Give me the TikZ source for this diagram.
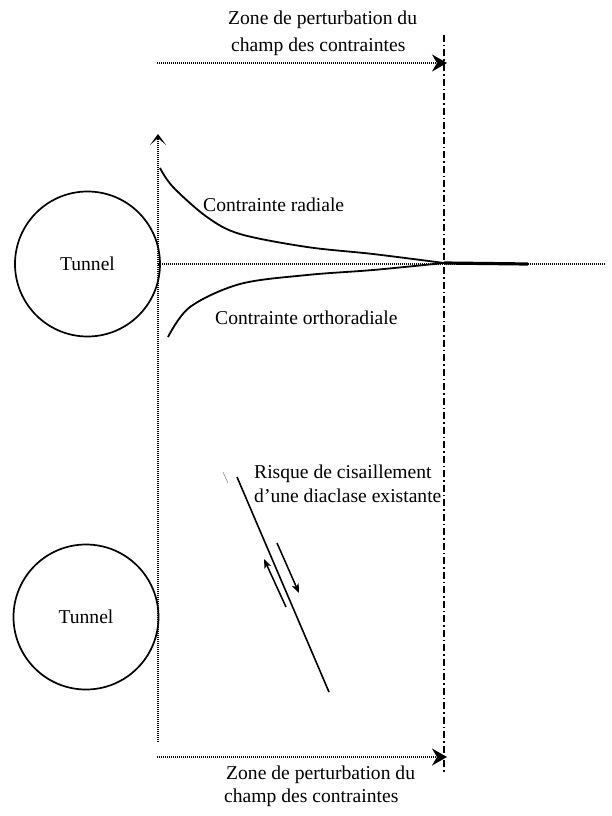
\documentclass[tikz,border=0pt]{standalone}
\usepackage{fontspec}
\setmainfont{Liberation Serif}
\usetikzlibrary{arrows.meta}
\begin{document}
\begin{tikzpicture}[x=1pt,y=-1pt,
  every node/.style={font=\fontsize{19.6}{24}\selectfont, inner sep=0pt},
  lbl/.style={anchor=base west},
  tunnel/.style={circle, draw, line width=1.7pt, minimum size=145pt},
  dotline/.style={line width=1.2pt, dash pattern=on 1pt off 1pt},
  dashdotline/.style={line width=1.7pt, dash pattern=on 7pt off 3pt on 1.5pt off 3pt},
  curve/.style={line width=1.8pt},
  zonearrow/.style={dotline, -{Stealth[length=15pt,width=17pt,inset=5pt]}},
  slip/.style={line width=1.5pt, -{Stealth[length=9pt,width=7pt,inset=2pt]}}
]
\useasboundingbox (0,0) rectangle (612,816);

% tunnels
\node[tunnel] (t1) at (87.5,264) {Tunnel};
\node[tunnel] (t2) at (86,617) {Tunnel};

% axes
\coordinate (axbot) at (158,742);
\coordinate (axtop) at (158,134);
\draw[dotline, -{Stealth[length=11pt,width=16pt,inset=7pt]}] (axbot) -- (axtop);
\coordinate (hl) at (158,264);
\coordinate (hr) at (605,264);
\draw[dotline] (hl) -- (hr);

% dash-dot limit
\coordinate (ltop) at (444,35);
\coordinate (lbot) at (444,774);
\draw[dashdotline] (ltop) -- (lbot);

% zone arrows
\coordinate (za1) at (157,63);
\coordinate (zb1) at (447,63);
\draw[zonearrow] (za1) -- (zb1);
\coordinate (za2) at (157,757);
\coordinate (zb2) at (447,757);
\draw[zonearrow] (za2) -- (zb2);

\node[lbl] (zt1) at (228,25) {Zone de perturbation du};
\node[lbl] (zt2) at (231,52) {champ des contraintes};
\node[lbl] (zb1t) at (226,779) {Zone de perturbation du};
\node[lbl] (zb2t) at (224,802) {champ des contraintes};

% stress curves
\coordinate (meet) at (444,263);
\coordinate (tailend) at (528,264);
\draw[curve] plot[smooth, tension=0.55] coordinates {(160,168) (173,187) (207,217) (240,234) (307,247) (373,254) (444,263)};
\draw[curve] plot[smooth, tension=0.55] coordinates {(168,337) (190,307) (240,284) (307,275) (373,270) (444,263)};
\draw[line width=3.2pt] (meet) -- (tailend);

\node[lbl] (rad) at (203,211) {Contrainte radiale};
\node[lbl] (orth) at (215,324) {Contrainte orthoradiale};

% fault
\coordinate (ftop) at (237,477);
\coordinate (fbot) at (329,692);
\draw[line width=1.6pt] (ftop) -- (fbot);
\coordinate (tka) at (223,472);
\coordinate (tkb) at (228,483);
\draw[line width=0.5pt, gray] (tka) -- (tkb);

\coordinate (d1) at (277,543);
\coordinate (d2) at (299,593);
\draw[slip] (d1) -- (d2);
\coordinate (u1) at (286,607);
\coordinate (u2) at (264,559);
\draw[slip] (u1) -- (u2);

\node[lbl] (risk1) at (254,478) {Risque de cisaillement};
\node[lbl] (risk2) at (254,502) {d'une diaclase existante};
\end{tikzpicture}
\end{document}
